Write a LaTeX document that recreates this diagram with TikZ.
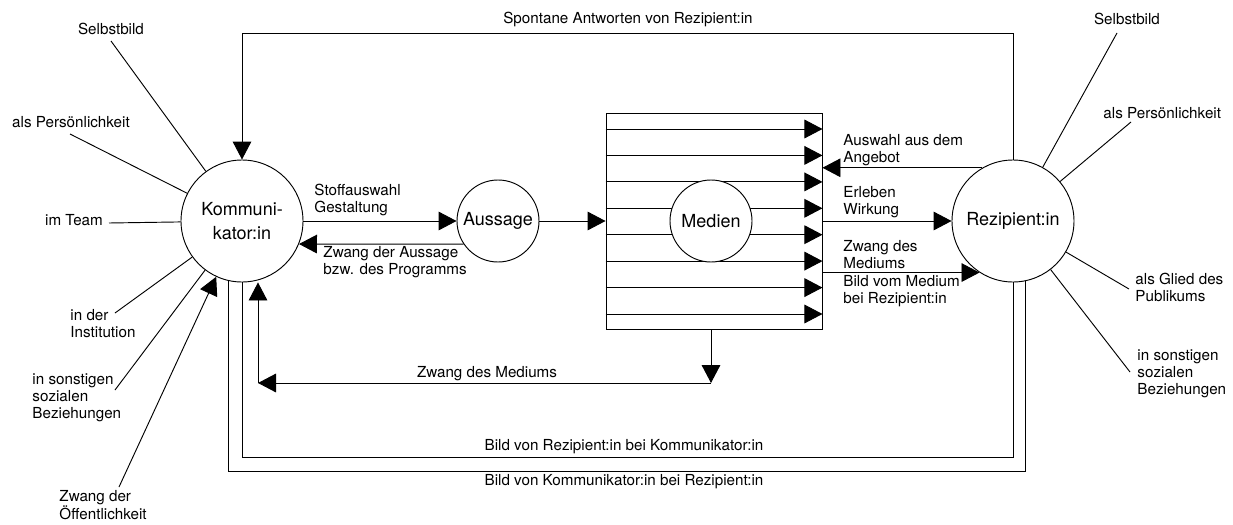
\documentclass[tikz,border=0pt]{standalone}
\usepackage{fontspec}
\setmainfont{TeX Gyre Heros}
\usetikzlibrary{arrows.meta}

\begin{document}
\begin{tikzpicture}
  [x=0.75pt,y=-0.75pt,line width=0.7pt,
   every node/.style={inner sep=0pt,font=\fontsize{11.4}{12.75}\selectfont}]
  \tikzstyle{person} = [draw,circle,fill=white,minimum size=91.5pt,align=center,font=\fontsize{13.5}{18}\selectfont]
  \tikzstyle{thing} = [draw,circle,fill=white,minimum size=61.5pt,font=\fontsize{13.5}{18}\selectfont]
  \tikzstyle{arr} = [-{Triangle[length=13.5pt,width=14pt]}]
  \tikzstyle{txt} = [anchor=west,align=left]
  \useasboundingbox (0,0) rectangle (1233,525);
  % Medien
  \node[draw,minimum width=162pt,minimum height=162pt] (box) at (714,221) {};
  \foreach \y in {129,155.4,181.9,208.3,234.7,261.1,287.6,314}
    \draw[arr] (box.west |- 0,\y) -- (box.east |- 0,\y);
  \node[person] (kom) at (242,221) {Kommuni-\\kator:in};
  \node[thing]  (aus) at (498,221) {Aussage};
  \node[thing]  (med) at (711,221) {Medien};
  \node[person] (rez) at (1013,221) {Rezipient:in};
  \coordinate (sp)  at (0,33);
  \coordinate (ib)  at (0,457);
  \coordinate (ob)  at (0,471);
  \coordinate (zm)  at (711,383);
  \coordinate (kzm) at (258,383);
  % loops
  \draw[arr] (rez.north) -- (rez.north |- sp) -- (kom.north |- sp) -- (kom.north);
  \draw (kom.south) -- (kom.south |- ib) -- (rez.south |- ib) -- (rez.south);
  \draw (kom.257) -- (kom.257 |- ob) -- (rez.282 |- ob) -- (rez.282);
  % flow
  \draw[arr] (kom.east) -- (aus.west);
  \draw[arr] (aus.214) -- (kom.338);
  \draw[arr] (aus.east) -- (box.west);
  \draw[arr] (rez.120) -- (box.east |- rez.120);
  \draw[arr] (box.east) -- (rez.west);
  \draw[arr] (box.east |- rez.237) -- (rez.237);
  \draw[arr] (box.south -| med) -- (zm);
  \draw[arr] (zm) -- (kzm);
  \draw[arr] (kzm) -- (kzm |- kom.south);
  % spokes
  \foreach \n/\x/\y in {k1/111/41,k2/70/134,k3/109/223,k4/115/313,k5/115/390,k6/119/487,
                        r1/1117/33,r2/1131/122,r3/1129/289,r4/1130/372}
    \coordinate (\n) at (\x,\y);
  \foreach \n in {k1,k2,k3,k4,k5}
    \draw (\n) -- (kom);
  \draw[arr] (k6) -- (kom);
  \foreach \n in {r1,r2,r3,r4}
    \draw (\n) -- (rez);
  % labels
  \node (lk1) at (111,29) {Selbstbild};
  \node (lk2) at (71,122) {als Persönlichkeit};
  \node (lk3) at (74,220) {im Team};
  \node[txt] (lk4) at (70,324) {in der\\Institution};
  \node[txt] (lk5) at (32,398) {in sonstigen\\sozialen\\Beziehungen};
  \node[txt] (lk6) at (59,505) {Zwang der\\Öffentlichkeit};
  \node (lr1) at (1127,19) {Selbstbild};
  \node[txt] (lr2) at (1103,113) {als Persönlichkeit};
  \node[txt] (lr3) at (1135,287) {als Glied des\\Publikums};
  \node[txt] (lr4) at (1137,374) {in sonstigen\\sozialen\\Beziehungen};
  \node (lsa) at (628,19) {Spontane Antworten von Rezipient:in};
  \node[txt] (lsg) at (314,200) {Stoffauswahl\\Gestaltung};
  \node[txt] (lza) at (323,262) {Zwang der Aussage\\bzw. des Programms};
  \node (lzm) at (487,374) {Zwang des Mediums};
  \node[txt] (laa) at (843,150) {Auswahl aus dem\\Angebot};
  \node[txt] (lew) at (843,202) {Erleben\\Wirkung};
  \node[txt] (lzd) at (843,255) {Zwang des\\Mediums};
  \node[txt] (lbm) at (843,291) {Bild vom Medium\\bei Rezipient:in};
  \node (lbr) at (624,447) {Bild von Rezipient:in bei Kommunikator:in};
  \node (lbk) at (624,482) {Bild von Kommunikator:in bei Rezipient:in};
\end{tikzpicture}
\end{document}
